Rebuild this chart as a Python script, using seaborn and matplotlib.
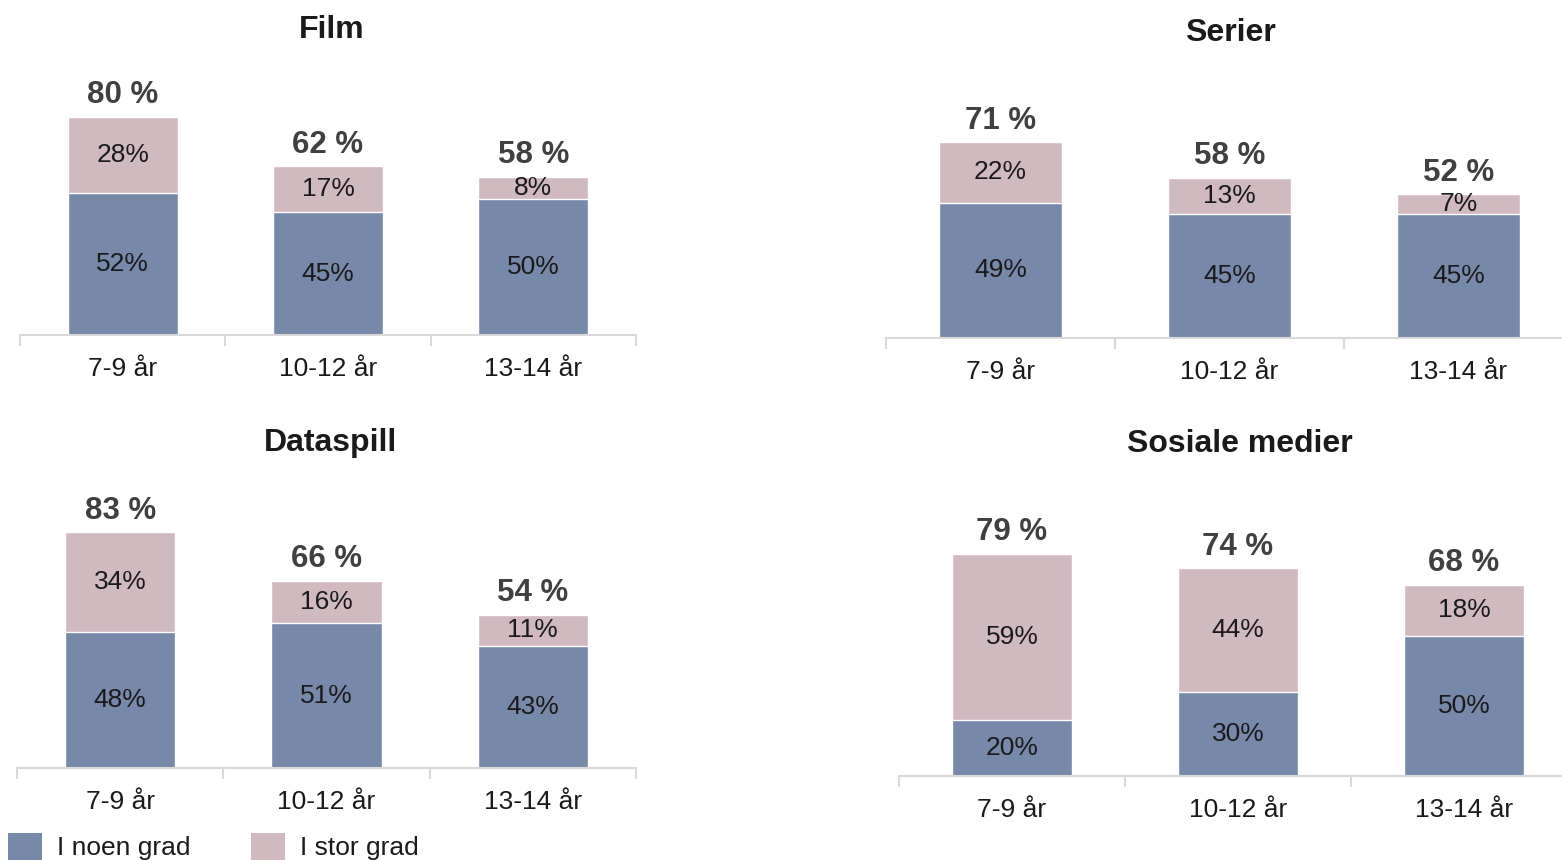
import matplotlib
matplotlib.use("Agg")
import matplotlib.pyplot as plt
from matplotlib.patches import Patch
import seaborn as sns
import pandas as pd

# data
ages = ["7-9 år", "10-12 år", "13-14 år"]

film_noen = [52, 45, 50]
film_stor = [28, 17, 8]
film_tot = [80, 62, 58]

serier_noen = [49, 45, 45]
serier_stor = [22, 13, 7]
serier_tot = [71, 58, 52]

spill_noen = [48, 51, 43]
spill_stor = [34, 16, 11]
spill_tot = [83, 66, 54]

sosiale_noen = [20, 30, 50]
sosiale_stor = [59, 44, 18]
sosiale_tot = [79, 74, 68]

BLUE = "#7689A8"
PINK = "#D1B9C0"
GRID = "#D9D9D9"

sns.set_theme(style="white")
plt.rcParams["font.family"] = ["Liberation Sans", "DejaVu Sans"]

W, H = 1562, 860
fig = plt.figure(figsize=(W / 100, H / 100), dpi=100)


def panel(title, noen, stor, tot, x0, x1, y_axis, px_unit, title_xy):
    h = 100 * px_unit
    ax = fig.add_axes([x0 / W, (H - y_axis) / H, (x1 - x0) / W, h / H])
    df = pd.DataFrame({"alder": ages, "noen": noen, "stor": stor, "tot": tot})
    sns.barplot(data=df, x="alder", y="tot", color=PINK, width=0.535,
                saturation=1, ax=ax)
    sns.barplot(data=df, x="alder", y="noen", color=BLUE, width=0.535,
                saturation=1, ax=ax)
    ax.set_xlim(-0.5, 2.5)
    ax.set_ylim(0, 100)
    ax.set_xlabel("")
    ax.set_ylabel("")
    ax.set_yticks([])
    for s in ["top", "left", "right"]:
        ax.spines[s].set_visible(False)
    ax.spines["bottom"].set_color(GRID)
    ax.spines["bottom"].set_linewidth(1.5)
    ax.set_xticks([0, 1, 2])
    ax.set_xticklabels(ages)
    ax.tick_params(axis="x", which="major", bottom=True, length=0, pad=16,
                   labelsize=19, labelcolor="#1a1a1a")
    ax.set_xticks([-0.5, 0.5, 1.5, 2.5], minor=True)
    ax.tick_params(axis="x", which="minor", bottom=True, length=8, width=1.5,
                   color=GRID, direction="out")
    for i in range(3):
        ax.text(i, noen[i] / 2, f"{noen[i]}%", ha="center", va="center",
                fontsize=19, color="#1a1a1a")
        ax.text(i, (noen[i] + tot[i]) / 2, f"{stor[i]}%", ha="center",
                va="center", fontsize=19, color="#1a1a1a")
        ax.annotate(f"{tot[i]} %", (i, tot[i]), xytext=(0, 15.5),
                    textcoords="offset points", ha="center", va="center",
                    fontsize=22.5, fontweight="bold", color="#404040")
    fig.text(title_xy[0] / W, 1 - (title_xy[1] + 3) / H, title, ha="center",
             va="center", fontsize=23, fontweight="bold", color="#1a1a1a")
    return ax


panel("Film", film_noen, film_stor, film_tot, 20, 636, 335, 2.725, (332, 27))
panel("Serier", serier_noen, serier_stor, serier_tot, 886, 1573, 338, 2.76, (1230, 30))
panel("Dataspill", spill_noen, spill_stor, spill_tot, 17, 636, 768, 2.84, (331, 440))
panel("Sosiale medier", sosiale_noen, sosiale_stor, sosiale_tot, 899, 1577, 776, 2.81, (1240, 441))

handles = [Patch(facecolor=BLUE, edgecolor="none"), Patch(facecolor=PINK, edgecolor="none")]
fig.legend(handles, ["I noen grad", "I stor grad"], ncol=2, loc="upper left",
           bbox_to_anchor=(8 / W, 1 - 833 / H), frameon=False, fontsize=19,
           handlelength=1.3, handleheight=1.2, handletextpad=0.55,
           columnspacing=2.3, borderpad=0, borderaxespad=0, labelcolor="#1a1a1a")

fig.savefig("out.png", dpi=100)
